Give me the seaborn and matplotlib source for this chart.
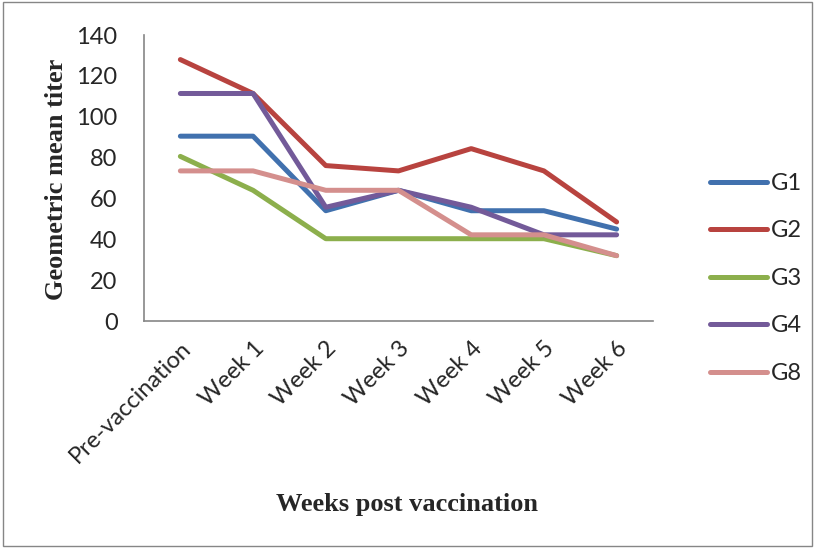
import matplotlib
matplotlib.use("Agg")
import matplotlib.pyplot as plt
import seaborn as sns
import pandas as pd
import numpy as np

weeks = ["Pre-vaccination", "Week 1", "Week 2", "Week 3", "Week 4", "Week 5", "Week 6"]
groups = ["G1", "G2", "G3", "G4", "G8"]
g1 = [90.5, 90.5, 54, 64, 54, 54, 45]
g2 = [128, 111.4, 76.1, 73.5, 84.4, 73.5, 48.5]
g3 = [80.6, 64, 40.3, 40.3, 40.3, 40.3, 32]
g4 = [111.4, 111.4, 55.7, 64, 55.7, 42.2, 42.2]
g8 = [73.5, 73.5, 64, 64, 42.2, 42.2, 32]
colors = ["#4171AE", "#B8433F", "#8CAF4C", "#735A99", "#D48F8D"]

rows = []
for name, vals in zip(groups, [g1, g2, g3, g4, g8]):
    for i, v in enumerate(vals):
        rows.append({"pos": i, "week": weeks[i], "group": name, "gmt": v})
df = pd.DataFrame(rows)

sns.set_style("white")
plt.rcParams["font.family"] = ["Lato", "DejaVu Sans"]

fig = plt.figure(figsize=(8.15, 5.48), dpi=100)
ax = fig.add_axes([0.1767, 0.4142, 0.6245, 0.5218])

sns.lineplot(data=df, x="pos", y="gmt", hue="group", hue_order=groups,
             palette=colors, linewidth=3.6, ax=ax, legend=True,
             solid_capstyle="round", solid_joinstyle="round")

ax.set_xlim(-0.5, 6.5)
ax.set_ylim(0, 140)
ax.set_yticks(np.arange(0, 141, 20))
ax.set_xticks(range(len(weeks)))
ax.set_xticklabels(weeks, rotation=45, ha="right", rotation_mode="anchor", fontsize=17)
ax.set_xticks(np.arange(-0.5, 7, 1), minor=True)
ax.tick_params(axis="x", which="major", length=0, pad=12)
ax.tick_params(axis="x", which="minor", length=6, color="#868686", width=1.2, direction="out")
ax.tick_params(axis="y", length=6, color="#868686", width=1.2, direction="out",
               labelsize=17, pad=13)
for s in ["top", "right"]:
    ax.spines[s].set_visible(False)
for s in ["left", "bottom"]:
    ax.spines[s].set_color("#868686")
    ax.spines[s].set_linewidth(1.2)

ax.set_xlabel("")
ax.set_ylabel("Geometric mean titer", family="Liberation Serif", fontweight="bold",
              fontsize=19, va="center")
ax.yaxis.set_label_coords(-0.171, 0.497)
fig.text(0.5, 0.079, "Weeks post vaccination", family="Liberation Serif",
         fontweight="bold", fontsize=19, ha="center", va="center")

handles, labels = ax.get_legend_handles_labels()
for h in handles:
    h.set_linewidth(3.6)
ax.legend(handles, labels, loc="center left", bbox_to_anchor=(0.871, 0.492),
          bbox_transform=fig.transFigure, frameon=False, fontsize=17,
          handlelength=2.4, handletextpad=0.2, labelspacing=1.12,
          borderaxespad=0, borderpad=0)

# outer frame
fig.patches.append(plt.Rectangle((0.004, 0.004), 0.992, 0.992, transform=fig.transFigure,
                                 fill=False, edgecolor="#868686", linewidth=1))

fig.savefig("out.png", dpi=100)
